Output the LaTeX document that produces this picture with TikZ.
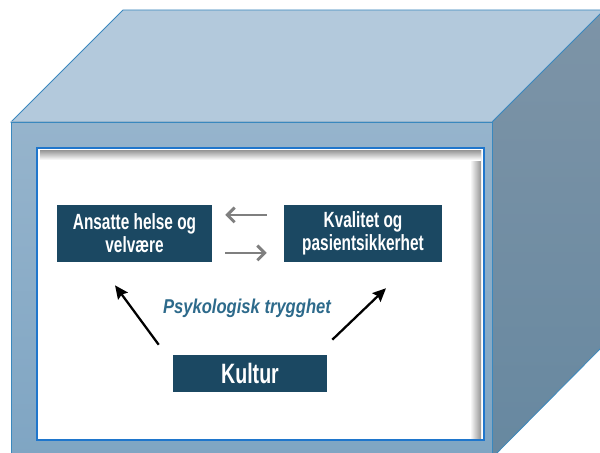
\documentclass[tikz,border=0pt]{standalone}
\usepackage{fontspec}
\newfontfamily\narrowsans[FakeStretch=0.70]{Liberation Sans}
\newfontfamily\slantsans[FakeStretch=0.83]{Liberation Sans}
\usepackage{xcolor}
\usepackage{tikz}
\usetikzlibrary{positioning,arrows.meta}
\definecolor{topface}{HTML}{B3C9DC}
\definecolor{frontface}{HTML}{96B4CC}
\definecolor{frontdk}{HTML}{7FA5C3}
\definecolor{sideface}{HTML}{7D94A7}
\definecolor{sidedk}{HTML}{6788A0}
\definecolor{edge}{HTML}{3A88BE}
\definecolor{panelrim}{HTML}{1F76CC}
\definecolor{boxfill}{HTML}{1B4862}
\definecolor{caption}{HTML}{2D6A8B}
\definecolor{arrowgray}{HTML}{7F7F7F}

\begin{document}
\begin{tikzpicture}[x=0.75pt,y=-0.75pt,
  factor/.style={fill=boxfill,text=white,align=center,inner sep=0pt,
    font=\narrowsans\bfseries\fontsize{16.5}{17.25}\selectfont,minimum height=42.75pt},
  twoway/.style={draw=arrowgray,line width=2.2pt,-{Straight Barb[length=5.5pt,width=11pt]}},
  influence/.style={draw=black,line width=1.7pt,-{Stealth[length=10pt,width=9pt,inset=1.5pt]}}]
  \useasboundingbox (0,0) rectangle (600,453);
  \begin{scope}
    \clip (0,0) rectangle (600,453);
    \draw[edge,line width=0.6pt,top color=sideface,bottom color=sidedk] (492,122) -- (604,8) -- (604,345) -- (492,458) -- cycle;
    \draw[edge,line width=0.6pt,fill=topface] (11,122) -- (123,10) -- (604,10) -- (492,122) -- cycle;
    \draw[edge,line width=0.6pt,top color=frontface,bottom color=frontdk] (11,122) rectangle (492,460);
  \end{scope}
  \fill[white] (37,148) rectangle (484,440);
  \shade[left color=white,right color=black!42] (470,150) rectangle (481,438);
  \shade[top color=black!42,bottom color=white] (40,150) rectangle (481,160);
  \draw[panelrim,line width=1.5pt] (37,148) rectangle (484,440);

  \node[factor,minimum width=116.25pt] (helse) at (134.5,233.5) {Ansatte helse og\\velvære};
  \node[factor,minimum width=118.5pt] (kvalitet) at (363,233.5) {Kvalitet og\\pasientsikkerhet};
  \node[factor,minimum width=115.5pt,minimum height=27.75pt,
    font=\narrowsans\bfseries\fontsize{21}{24}\selectfont] (kultur) at (250,373.5) {Kultur};
  \node[text=caption,font=\slantsans\bfseries\itshape\fontsize{15}{18}\selectfont] (trygghet) at (247,308) {Psykologisk trygghet};

  \draw[twoway,shorten <=12.75pt,shorten >=9.75pt] ([yshift=13.9pt]kvalitet.west) -- ([yshift=13.9pt]helse.east);
  \draw[twoway,shorten <=9.75pt,shorten >=12.75pt] ([yshift=-14.6pt]helse.east) -- ([yshift=-14.6pt]kvalitet.west);
  \draw[influence] ([shift={(-10.5pt,7.5pt)}]kultur.north west) -- ([shift={(-14.6pt,-17.3pt)}]helse.south);
  \draw[influence] ([shift={(3.75pt,11.25pt)}]kultur.north east) -- ([shift={(17.25pt,-19.5pt)}]kvalitet.south);
\end{tikzpicture}
\end{document}
